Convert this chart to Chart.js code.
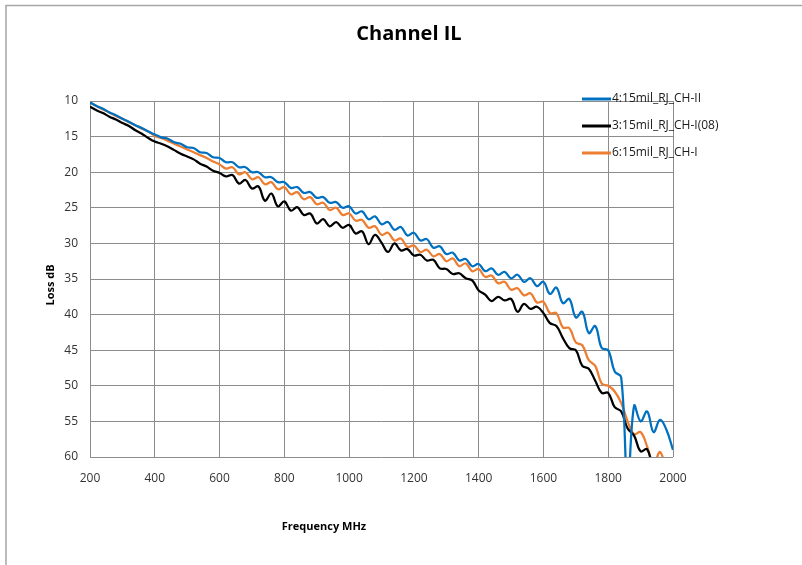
<!DOCTYPE html>
<html>
<head>
<meta charset="utf-8">
<script src="https://cdn.jsdelivr.net/npm/chart.js@4.4.1/dist/chart.umd.min.js"></script>
<style>
  html, body { margin: 0; padding: 0; background: #fff; }
  #wrap { width: 802px; height: 565px; }
</style>
</head>
<body>
<div id="wrap"><canvas id="ilChart" width="802" height="565"></canvas></div>
<script>
// Frequency points (MHz)
const freqMHz = [
  200, 220, 240, 260, 280, 300, 320, 340, 360, 380,
  400, 420, 440, 460, 480, 500, 520, 540, 560, 580,
  600, 620, 640, 660, 680, 700, 720, 740, 760, 780,
  800, 820, 840, 860, 880, 900, 920, 940, 960, 980,
  1000, 1020, 1040, 1060, 1080, 1100, 1120, 1140, 1160, 1180,
  1200, 1220, 1240, 1260, 1280, 1300, 1320, 1340, 1360, 1380,
  1400, 1420, 1440, 1460, 1480, 1500, 1520, 1540, 1560, 1580,
  1600, 1620, 1640, 1660, 1680, 1700, 1720, 1740, 1760, 1780,
  1800, 1820, 1840, 1860, 1880, 1900, 1920, 1940, 1960, 1980,
  2000
];

// 4:15mil_RJ_CH-II (dB)
const lossCh2 = [
  10.2, 10.7, 11.1, 11.6, 12.0, 12.5, 12.9, 13.4, 13.8, 14.3,
  14.7, 15.1, 15.3, 15.8, 16.0, 16.5, 16.6, 17.2, 17.3, 17.9,
  18.0, 18.6, 18.6, 19.3, 19.3, 20.0, 20.0, 20.7, 20.7, 21.4,
  21.4, 22.2, 22.1, 22.9, 22.8, 23.6, 23.5, 24.3, 24.2, 25.0,
  24.8, 25.8, 25.5, 26.6, 26.2, 27.3, 27.0, 28.1, 27.7, 28.9,
  28.5, 29.6, 29.4, 30.6, 30.4, 31.5, 31.3, 32.4, 32.2, 33.2,
  32.9, 33.9, 33.5, 34.4, 34.0, 34.9, 34.4, 35.4, 34.9, 36.0,
  35.4, 37.1, 36.2, 38.4, 37.8, 40.4, 39.6, 42.6, 41.6, 44.7,
  45.0, 48.0, 48.8, 64.0, 52.8, 55.0, 53.6, 56.5, 54.8, 56.2,
  59.0
];

// 3:15mil_RJ_CH-I(08) (dB)
const lossCh1_08 = [
  10.8, 11.3, 11.7, 12.2, 12.6, 13.1, 13.5, 14.1, 14.6, 15.2,
  15.7, 16.0, 16.4, 16.9, 17.4, 17.8, 18.2, 18.8, 19.2, 19.8,
  20.1, 20.6, 20.4, 21.6, 21.1, 22.3, 22.0, 24.0, 23.0, 24.8,
  24.1, 25.4, 24.9, 26.0, 25.8, 27.2, 26.6, 27.6, 27.0, 27.8,
  27.4, 28.6, 28.3, 30.1, 28.8, 29.9, 31.2, 30.0, 31.0, 30.8,
  31.7, 31.6, 32.4, 32.3, 33.5, 33.6, 34.3, 34.2, 34.9, 35.2,
  36.6, 37.2, 38.1, 37.5, 38.0, 37.8, 39.6, 38.5, 39.2, 38.9,
  39.8, 41.2, 41.6, 43.3, 44.7, 45.0, 47.2, 47.6, 49.3, 51.0,
  51.0, 53.0, 53.6, 56.0, 57.0, 59.2, 58.9, 62.0, 64.0, 66.0,
  68.0
];

// 6:15mil_RJ_CH-I (dB)
const lossCh1 = [
  10.2, 10.7, 11.2, 11.6, 12.1, 12.5, 13.0, 13.4, 13.9, 14.3,
  14.9, 15.2, 15.6, 16.0, 16.4, 16.8, 17.2, 17.6, 18.0, 18.5,
  18.9, 19.5, 19.3, 20.3, 20.0, 21.0, 20.7, 21.7, 21.4, 22.4,
  22.1, 23.1, 22.8, 23.8, 23.5, 24.5, 24.3, 25.3, 25.0, 26.0,
  25.8, 26.8, 26.7, 27.8, 27.6, 28.8, 28.5, 29.6, 29.3, 30.5,
  30.3, 31.2, 30.9, 31.8, 31.5, 32.5, 32.1, 33.2, 32.8, 33.9,
  33.6, 34.7, 34.5, 35.6, 35.4, 36.5, 36.3, 37.3, 37.0, 38.3,
  38.2, 39.8, 39.8, 41.8, 41.9, 43.9, 44.3, 46.4, 47.2, 49.7,
  50.0, 50.8, 52.4, 55.0, 56.8, 56.5, 58.5, 61.0, 59.3, 62.0,
  64.0
];

const seriesNames = ['4:15mil_RJ_CH-II', '3:15mil_RJ_CH-I(08)', '6:15mil_RJ_CH-I'];
const seriesColors = ['#0070C0', '#000000', '#ED7D31'];
const xTicks = [200, 400, 600, 800, 1000, 1200, 1400, 1600, 1800, 2000];
const yTicks = [10, 15, 20, 25, 30, 35, 40, 45, 50, 55, 60];

const FONT = '"Open Sans", "Liberation Sans", sans-serif';

function toPoints(values) {
    return values.map((v, i) => ({ x: freqMHz[i], y: v }));
}

// Frame, title, axis titles and the legend (drawn over the plot like Excel does)
const excelDecor = {
    id: 'excelDecor',
    beforeDraw(chart) {
        const c = chart.ctx;
        c.save();
        c.fillStyle = '#ffffff';
        c.fillRect(0, 0, chart.width, chart.height);
        c.strokeStyle = '#a6a6a6';
        c.lineWidth = 1.5;
        c.beginPath();
        c.moveTo(6, chart.height);
        c.lineTo(6, 5.5);
        c.lineTo(chart.width, 5.5);
        c.stroke();
        c.restore();
    },
    afterDraw(chart) {
        const c = chart.ctx;
        c.save();
        c.fillStyle = '#000000';
        c.textAlign = 'center';
        c.textBaseline = 'middle';
        c.font = 'bold 20px ' + FONT;
        c.fillText('Channel IL', 409, 34);

        c.font = 'bold 11px ' + FONT;
        c.fillText('Frequency MHz', 324, 527);
        c.translate(51, 285);
        c.rotate(-Math.PI / 2);
        c.fillText('Loss dB', 0, 0);
        c.restore();

        // legend
        c.save();
        c.font = '12px ' + FONT;
        c.textAlign = 'left';
        c.textBaseline = 'middle';
        const rows = [99, 126, 153];
        chart.data.datasets.forEach((ds, i) => {
            c.strokeStyle = ds.borderColor;
            c.lineWidth = 3;
            c.beginPath();
            c.moveTo(582, rows[i]);
            c.lineTo(611, rows[i]);
            c.stroke();
            c.fillStyle = '#1a1a1a';
            c.fillText(ds.label, 612, rows[i]);
        });
        c.restore();
    }
};

const ctx = document.getElementById('ilChart').getContext('2d');
const chart = new Chart(ctx, {
    type: 'line',
    data: {
        datasets: [
            { label: seriesNames[0], data: toPoints(lossCh2), borderColor: seriesColors[0] },
            { label: seriesNames[1], data: toPoints(lossCh1_08), borderColor: seriesColors[1] },
            { label: seriesNames[2], data: toPoints(lossCh1), borderColor: seriesColors[2] }
        ].map(ds => Object.assign(ds, {
            borderWidth: 2.25,
            pointRadius: 0,
            fill: false,
            tension: 0.4
        }))
    },
    options: {
        responsive: false,
        animation: false,
        layout: { padding: { left: 50, right: 129, top: 101, bottom: 60 } },
        plugins: {
            legend: { display: false },
            title: { display: false },
            tooltip: { enabled: false }
        },
        scales: {
            x: {
                type: 'linear',
                min: 200,
                max: 2000,
                afterBuildTicks: s => { s.ticks = xTicks.map(v => ({ value: v })); },
                afterFit: s => { s.height = 48; },
                border: { display: false },
                grid: { color: '#8c8c8c', lineWidth: 1, drawTicks: false },
                ticks: {
                    padding: 14,
                    color: '#333333',
                    font: { family: FONT, size: 12 },
                    callback: v => String(v)
                }
            },
            y: {
                type: 'linear',
                reverse: true,
                min: 10,
                max: 60,
                afterBuildTicks: s => { s.ticks = yTicks.map(v => ({ value: v })); },
                afterFit: s => { s.width = 40; },
                border: { display: false },
                grid: { color: '#8c8c8c', lineWidth: 1, drawTicks: false },
                ticks: {
                    padding: 12,
                    color: '#333333',
                    font: { family: FONT, size: 12 },
                    callback: v => String(v)
                }
            }
        }
    },
    plugins: [excelDecor]
});
</script>
</body>
</html>
